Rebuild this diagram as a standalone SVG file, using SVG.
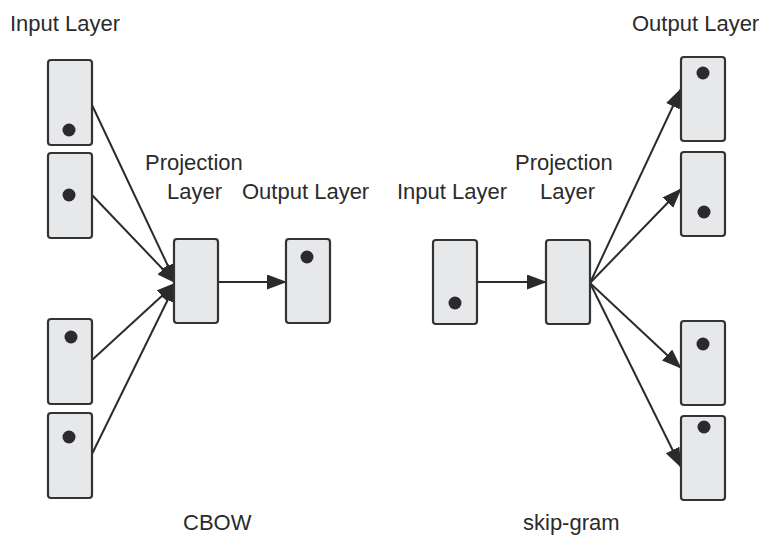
<svg xmlns="http://www.w3.org/2000/svg" width="771" height="538" viewBox="0 0 771 538">
<style>
.box{fill:#e7e8ea;stroke:#333333;stroke-width:2.2}
.dot{fill:#2b2b2d}
.lbl{font-family:"Liberation Sans",Arial,sans-serif;font-size:22px;fill:#2b2b2b}
.edge{stroke:#2b2b2b;stroke-width:2;fill:none;marker-end:url(#ah)}
</style>
<defs>
<marker id="ah" markerUnits="userSpaceOnUse" markerWidth="20" markerHeight="15" refX="19" refY="7.5" orient="auto">
<path d="M0,0 L20,7.5 L0,15 Z" fill="#2b2b2b"/>
</marker>
</defs>
<rect width="771" height="538" fill="#ffffff"/>
<g id="labels">
<text class="lbl" x="10" y="31">Input Layer</text>
<text class="lbl" x="632" y="31">Output Layer</text>
<text class="lbl" x="145" y="170">Projection</text>
<text class="lbl" x="167" y="199">Layer</text>
<text class="lbl" x="242" y="199">Output Layer</text>
<text class="lbl" x="397" y="199">Input Layer</text>
<text class="lbl" x="515" y="170">Projection</text>
<text class="lbl" x="540" y="199">Layer</text>
<text class="lbl" x="183" y="530">CBOW</text>
<text class="lbl" x="523" y="530">skip-gram</text>
</g>
<g id="connectors">
<line class="edge" x1="92" y1="105" x2="176" y2="283"/>
<line class="edge" x1="92" y1="195" x2="176" y2="283"/>
<line class="edge" x1="92" y1="360" x2="176" y2="283"/>
<line class="edge" x1="92" y1="454" x2="176" y2="283"/>
<line class="edge" x1="218" y1="282" x2="286" y2="282"/>
<line class="edge" x1="478" y1="282" x2="546" y2="282"/>
<line class="edge" x1="590" y1="283" x2="681" y2="89"/>
<line class="edge" x1="590" y1="283" x2="681" y2="189"/>
<line class="edge" x1="590" y1="283" x2="681" y2="368"/>
<line class="edge" x1="590" y1="283" x2="681" y2="467"/>
</g>
<g id="cbow-in1"><rect class="box" x="48" y="60" width="44" height="85" rx="3"/><circle class="dot" cx="69" cy="130" r="6.5"/></g>
<g id="cbow-in2"><rect class="box" x="48" y="153" width="44" height="85" rx="3"/><circle class="dot" cx="69" cy="195" r="6.5"/></g>
<g id="cbow-in3"><rect class="box" x="48" y="319" width="44" height="85" rx="3"/><circle class="dot" cx="71" cy="337" r="6.5"/></g>
<g id="cbow-in4"><rect class="box" x="48" y="413" width="44" height="85" rx="3"/><circle class="dot" cx="69" cy="437" r="6.5"/></g>
<g id="cbow-proj"><rect class="box" x="174" y="239" width="44" height="84" rx="3"/></g>
<g id="cbow-out"><rect class="box" x="286" y="239" width="44" height="84" rx="3"/><circle class="dot" cx="307" cy="257" r="6.5"/></g>
<g id="sg-in"><rect class="box" x="433" y="240" width="44" height="84" rx="3"/><circle class="dot" cx="455" cy="303" r="6.5"/></g>
<g id="sg-proj"><rect class="box" x="546" y="240" width="44" height="84" rx="3"/></g>
<g id="sg-out1"><rect class="box" x="681" y="57" width="44" height="84" rx="3"/><circle class="dot" cx="703" cy="73" r="6.5"/></g>
<g id="sg-out2"><rect class="box" x="681" y="152" width="44" height="84" rx="3"/><circle class="dot" cx="704" cy="212" r="6.5"/></g>
<g id="sg-out3"><rect class="box" x="681" y="321" width="44" height="84" rx="3"/><circle class="dot" cx="703" cy="344" r="6.5"/></g>
<g id="sg-out4"><rect class="box" x="681" y="416" width="44" height="84" rx="3"/><circle class="dot" cx="704" cy="427" r="6.5"/></g>
</svg>
